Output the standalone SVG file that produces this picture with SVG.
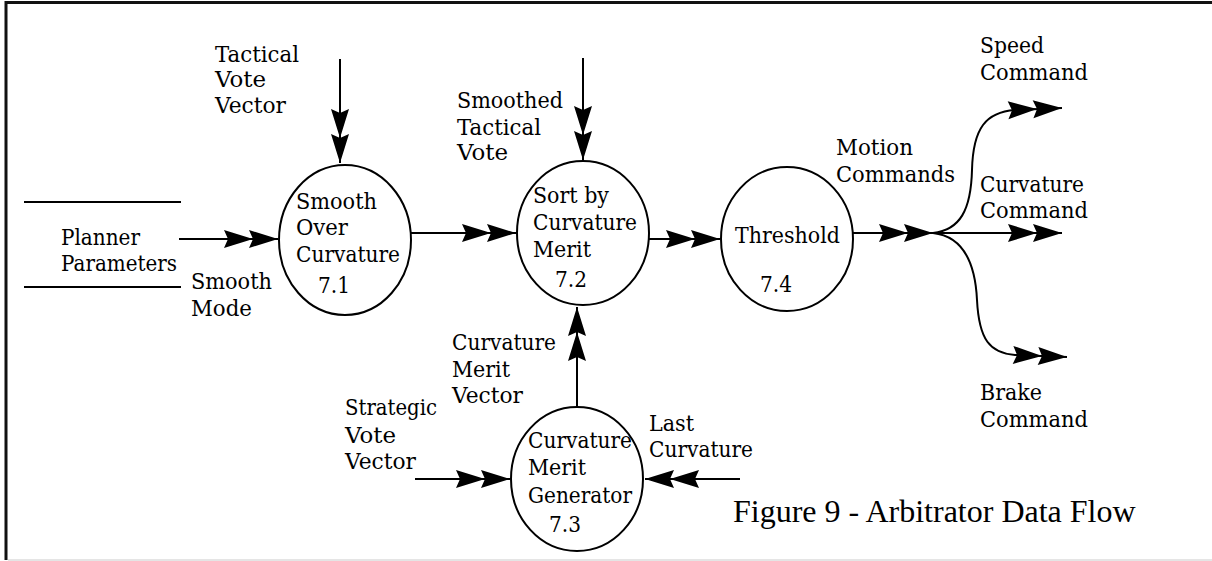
<svg xmlns="http://www.w3.org/2000/svg" width="1212" height="561" viewBox="0 0 1212 561">
  <style>
    .t { font-family: "DejaVu Serif", "Liberation Serif", serif; font-size: 22px; fill: #000; }
    .title { font-family: "Liberation Serif", "Times New Roman", serif; font-size: 32px; fill: #000; }
    .proc { fill: #fff; stroke: #000; stroke-width: 2; }
    .flow { fill: none; stroke: #000; stroke-width: 2; }
    .store { stroke: #000; stroke-width: 2; }
  </style>
  <defs>
    <!-- double filled arrowhead used on every data flow -->
    <marker id="dbl" markerUnits="userSpaceOnUse" viewBox="0 0 60 20" markerWidth="60" markerHeight="20" refX="56" refY="10" orient="auto">
      <path d="M56,10 L27,1 L31,10 L27,19 Z M31,10 L2,1 L6,10 L2,19 Z" fill="#000"/>
    </marker>
  </defs>

  <rect width="1212" height="561" fill="#fff"/>
  <!-- page frame -->
  <g id="frame">
    <line x1="5" y1="2.5" x2="1212" y2="2.5" stroke="#111" stroke-width="3"/>
    <line x1="6" y1="1" x2="6" y2="560" stroke="#111" stroke-width="3"/>
    <line x1="8" y1="560" x2="1212" y2="560" stroke="#ddd" stroke-width="1.5"/>
  </g>

  <!-- data flows -->
  <g id="connectors">
    <path class="flow" d="M340,59 L340,163" marker-end="url(#dbl)"/>
    <path class="flow" d="M583,58 L583,160" marker-end="url(#dbl)"/>
    <path class="flow" d="M179,239 L278,239" marker-end="url(#dbl)"/>
    <path class="flow" d="M411,233 L516,233" marker-end="url(#dbl)"/>
    <path class="flow" d="M649,239 L720,239" marker-end="url(#dbl)"/>
    <path class="flow" d="M853,233 L933,233" stroke-width="3" marker-end="url(#dbl)"/>
    <path class="flow" d="M933,233 L1062,233" marker-end="url(#dbl)"/>
    <path class="flow" d="M933,233 C960,230 971,210 972,170 C973,128 986,112 1015,110 L1062,108" marker-end="url(#dbl)"/>
    <path class="flow" d="M933,233 C960,236 975,258 977,300 C979,340 990,353 1015,355 L1067,357" marker-end="url(#dbl)"/>
    <path class="flow" d="M577,407 L577,307" marker-end="url(#dbl)"/>
    <path class="flow" d="M415,479 L510,479" marker-end="url(#dbl)"/>
    <path class="flow" d="M740,479 L645,479" marker-end="url(#dbl)"/>
  </g>

  <!-- external store: planner parameters -->
  <g id="planner-parameters">
    <line class="store" x1="24" y1="202" x2="181" y2="202"/>
    <line class="store" x1="24" y1="287" x2="181" y2="287"/>
    <text class="t" x="61" y="245" textLength="79" lengthAdjust="spacingAndGlyphs">Planner</text>
    <text class="t" x="61" y="271" textLength="116" lengthAdjust="spacingAndGlyphs">Parameters</text>
  </g>

  <g id="p7-1">
    <ellipse class="proc" cx="345" cy="240" rx="66" ry="75"/>
    <text class="t" x="296" y="209" textLength="81" lengthAdjust="spacingAndGlyphs">Smooth</text>
    <text class="t" x="296" y="235" textLength="52" lengthAdjust="spacingAndGlyphs">Over</text>
    <text class="t" x="296" y="262" textLength="104" lengthAdjust="spacingAndGlyphs">Curvature</text>
    <text class="t" x="318" y="293" textLength="32" lengthAdjust="spacingAndGlyphs">7.1</text>
  </g>

  <g id="p7-2">
    <ellipse class="proc" cx="583" cy="233" rx="66" ry="72"/>
    <text class="t" x="533" y="203" textLength="76" lengthAdjust="spacingAndGlyphs">Sort by</text>
    <text class="t" x="533" y="230" textLength="104" lengthAdjust="spacingAndGlyphs">Curvature</text>
    <text class="t" x="533" y="257" textLength="58" lengthAdjust="spacingAndGlyphs">Merit</text>
    <text class="t" x="555" y="287" textLength="32" lengthAdjust="spacingAndGlyphs">7.2</text>
  </g>

  <g id="p7-4">
    <ellipse class="proc" cx="787" cy="239" rx="66" ry="72"/>
    <text class="t" x="735" y="243" textLength="105" lengthAdjust="spacingAndGlyphs">Threshold</text>
    <text class="t" x="760" y="292" textLength="32" lengthAdjust="spacingAndGlyphs">7.4</text>
  </g>

  <g id="p7-3">
    <ellipse class="proc" cx="577" cy="479" rx="66" ry="72"/>
    <text class="t" x="528" y="448" textLength="104" lengthAdjust="spacingAndGlyphs">Curvature</text>
    <text class="t" x="528" y="475" textLength="58" lengthAdjust="spacingAndGlyphs">Merit</text>
    <text class="t" x="528" y="503" textLength="104" lengthAdjust="spacingAndGlyphs">Generator</text>
    <text class="t" x="549" y="532" textLength="32" lengthAdjust="spacingAndGlyphs">7.3</text>
  </g>

  <!-- flow labels -->
  <g id="labels">
    <text class="t" x="215" y="62" textLength="84" lengthAdjust="spacingAndGlyphs">Tactical</text>
    <text class="t" x="215" y="87" textLength="51" lengthAdjust="spacingAndGlyphs">Vote</text>
    <text class="t" x="215" y="113" textLength="71" lengthAdjust="spacingAndGlyphs">Vector</text>

    <text class="t" x="191" y="289" textLength="81" lengthAdjust="spacingAndGlyphs">Smooth</text>
    <text class="t" x="191" y="316" textLength="61" lengthAdjust="spacingAndGlyphs">Mode</text>

    <text class="t" x="457" y="108" textLength="106" lengthAdjust="spacingAndGlyphs">Smoothed</text>
    <text class="t" x="457" y="135" textLength="84" lengthAdjust="spacingAndGlyphs">Tactical</text>
    <text class="t" x="457" y="160" textLength="51" lengthAdjust="spacingAndGlyphs">Vote</text>

    <text class="t" x="836" y="155" textLength="77" lengthAdjust="spacingAndGlyphs">Motion</text>
    <text class="t" x="836" y="182" textLength="119" lengthAdjust="spacingAndGlyphs">Commands</text>

    <text class="t" x="980" y="53" textLength="64" lengthAdjust="spacingAndGlyphs">Speed</text>
    <text class="t" x="980" y="80" textLength="108" lengthAdjust="spacingAndGlyphs">Command</text>
    <text class="t" x="980" y="192" textLength="104" lengthAdjust="spacingAndGlyphs">Curvature</text>
    <text class="t" x="980" y="218" textLength="108" lengthAdjust="spacingAndGlyphs">Command</text>
    <text class="t" x="980" y="400" textLength="62" lengthAdjust="spacingAndGlyphs">Brake</text>
    <text class="t" x="980" y="427" textLength="108" lengthAdjust="spacingAndGlyphs">Command</text>

    <text class="t" x="452" y="350" textLength="104" lengthAdjust="spacingAndGlyphs">Curvature</text>
    <text class="t" x="452" y="377" textLength="58" lengthAdjust="spacingAndGlyphs">Merit</text>
    <text class="t" x="452" y="403" textLength="71" lengthAdjust="spacingAndGlyphs">Vector</text>

    <text class="t" x="345" y="415" textLength="92" lengthAdjust="spacingAndGlyphs">Strategic</text>
    <text class="t" x="345" y="443" textLength="51" lengthAdjust="spacingAndGlyphs">Vote</text>
    <text class="t" x="345" y="469" textLength="71" lengthAdjust="spacingAndGlyphs">Vector</text>

    <text class="t" x="649" y="431" textLength="45" lengthAdjust="spacingAndGlyphs">Last</text>
    <text class="t" x="649" y="457" textLength="104" lengthAdjust="spacingAndGlyphs">Curvature</text>
  </g>

  <g id="caption">
    <text class="title" x="733" y="522">Figure 9 - Arbitrator Data Flow</text>
  </g>
</svg>
